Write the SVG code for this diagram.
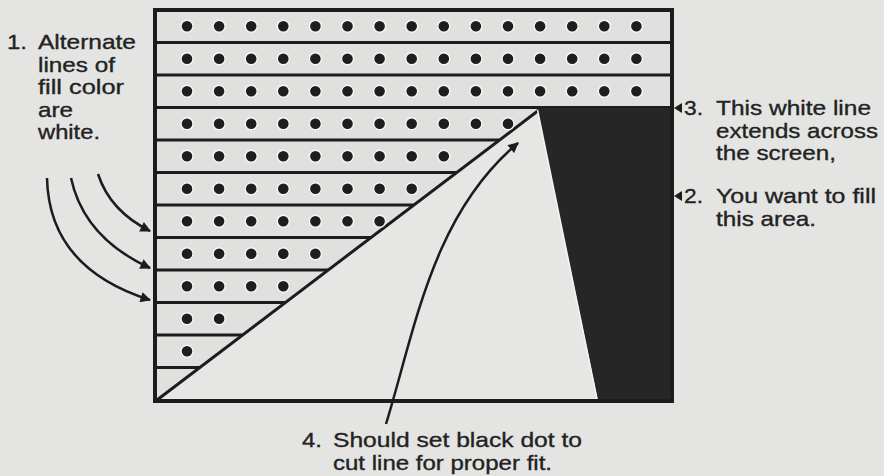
<svg xmlns="http://www.w3.org/2000/svg" xmlns:xlink="http://www.w3.org/1999/xlink" width="884" height="476" viewBox="0 0 884 476">
<style>
.t{font-family:"Liberation Sans",Arial,Helvetica,sans-serif;font-size:21px;fill:#222;stroke:#222;stroke-width:0.35}
.ln{stroke:#1c1c1c;stroke-width:3;fill:none}
.fr{stroke:#1c1c1c;stroke-width:4;fill:none}
.ar{stroke:#1c1c1c;stroke-width:2.5;fill:none}
</style>
<defs>
<circle id="d" r="6" fill="#1e1e1e" stroke="#f6f6f6" stroke-width="1.4"/>
<marker id="ah" viewBox="0 0 10 10" refX="9" refY="5" markerWidth="4.6" markerHeight="4.2" orient="auto" markerUnits="strokeWidth">
<path d="M0,0 L10,5 L0,10 Z" fill="#1c1c1c"/>
</marker>
</defs>
<rect width="884" height="476" fill="#e4e5e2"/>
<g id="grid">
<rect x="155" y="10" width="517" height="391" fill="#e0e1df"/>
<polygon points="157,400 539,110 598,400" fill="#e6e7e4"/>
<g class="ln">
<line x1="155" y1="42.5" x2="672" y2="42.5"/>
<line x1="155" y1="75" x2="672" y2="75"/>
<line x1="155" y1="107.5" x2="672" y2="107.5"/>
<line x1="155" y1="140" x2="499" y2="140"/>
<line x1="155" y1="172.5" x2="457" y2="172.5"/>
<line x1="155" y1="205" x2="414" y2="205"/>
<line x1="155" y1="237.5" x2="371" y2="237.5"/>
<line x1="155" y1="270" x2="328" y2="270"/>
<line x1="155" y1="302.5" x2="285" y2="302.5"/>
<line x1="155" y1="335" x2="243" y2="335"/>
<line x1="155" y1="367.5" x2="200" y2="367.5"/>
<line x1="157" y1="400" x2="539" y2="110"/>
</g>
<g id="dots">
<use href="#d" x="187" y="26.3"/><use href="#d" x="219.1" y="26.3"/><use href="#d" x="251.2" y="26.3"/><use href="#d" x="283.3" y="26.3"/><use href="#d" x="315.4" y="26.3"/><use href="#d" x="347.5" y="26.3"/><use href="#d" x="379.6" y="26.3"/><use href="#d" x="411.7" y="26.3"/><use href="#d" x="443.8" y="26.3"/><use href="#d" x="475.9" y="26.3"/><use href="#d" x="508" y="26.3"/><use href="#d" x="540.1" y="26.3"/><use href="#d" x="572.2" y="26.3"/><use href="#d" x="604.3" y="26.3"/><use href="#d" x="636.4" y="26.3"/>
<use href="#d" x="187" y="58.8"/><use href="#d" x="219.1" y="58.8"/><use href="#d" x="251.2" y="58.8"/><use href="#d" x="283.3" y="58.8"/><use href="#d" x="315.4" y="58.8"/><use href="#d" x="347.5" y="58.8"/><use href="#d" x="379.6" y="58.8"/><use href="#d" x="411.7" y="58.8"/><use href="#d" x="443.8" y="58.8"/><use href="#d" x="475.9" y="58.8"/><use href="#d" x="508" y="58.8"/><use href="#d" x="540.1" y="58.8"/><use href="#d" x="572.2" y="58.8"/><use href="#d" x="604.3" y="58.8"/><use href="#d" x="636.4" y="58.8"/>
<use href="#d" x="187" y="91.3"/><use href="#d" x="219.1" y="91.3"/><use href="#d" x="251.2" y="91.3"/><use href="#d" x="283.3" y="91.3"/><use href="#d" x="315.4" y="91.3"/><use href="#d" x="347.5" y="91.3"/><use href="#d" x="379.6" y="91.3"/><use href="#d" x="411.7" y="91.3"/><use href="#d" x="443.8" y="91.3"/><use href="#d" x="475.9" y="91.3"/><use href="#d" x="508" y="91.3"/><use href="#d" x="540.1" y="91.3"/><use href="#d" x="572.2" y="91.3"/><use href="#d" x="604.3" y="91.3"/><use href="#d" x="636.4" y="91.3"/>
<use href="#d" x="187" y="123.8"/><use href="#d" x="219.1" y="123.8"/><use href="#d" x="251.2" y="123.8"/><use href="#d" x="283.3" y="123.8"/><use href="#d" x="315.4" y="123.8"/><use href="#d" x="347.5" y="123.8"/><use href="#d" x="379.6" y="123.8"/><use href="#d" x="411.7" y="123.8"/><use href="#d" x="443.8" y="123.8"/><use href="#d" x="475.9" y="123.8"/><use href="#d" x="508" y="123.8"/>
<use href="#d" x="187" y="156.3"/><use href="#d" x="219.1" y="156.3"/><use href="#d" x="251.2" y="156.3"/><use href="#d" x="283.3" y="156.3"/><use href="#d" x="315.4" y="156.3"/><use href="#d" x="347.5" y="156.3"/><use href="#d" x="379.6" y="156.3"/><use href="#d" x="411.7" y="156.3"/><use href="#d" x="443.8" y="156.3"/>
<use href="#d" x="187" y="188.8"/><use href="#d" x="219.1" y="188.8"/><use href="#d" x="251.2" y="188.8"/><use href="#d" x="283.3" y="188.8"/><use href="#d" x="315.4" y="188.8"/><use href="#d" x="347.5" y="188.8"/><use href="#d" x="379.6" y="188.8"/><use href="#d" x="411.7" y="188.8"/>
<use href="#d" x="187" y="221.3"/><use href="#d" x="219.1" y="221.3"/><use href="#d" x="251.2" y="221.3"/><use href="#d" x="283.3" y="221.3"/><use href="#d" x="315.4" y="221.3"/><use href="#d" x="347.5" y="221.3"/><use href="#d" x="379.6" y="221.3"/>
<use href="#d" x="187" y="253.8"/><use href="#d" x="219.1" y="253.8"/><use href="#d" x="251.2" y="253.8"/><use href="#d" x="283.3" y="253.8"/><use href="#d" x="315.4" y="253.8"/>
<use href="#d" x="187" y="286.3"/><use href="#d" x="219.1" y="286.3"/><use href="#d" x="251.2" y="286.3"/><use href="#d" x="283.3" y="286.3"/>
<use href="#d" x="187" y="318.8"/><use href="#d" x="219.1" y="318.8"/>
<use href="#d" x="187" y="351.3"/>
</g>
</g>
<g id="black-area">
<polygon points="537,108 672,108 672,401 598,401" fill="#262626"/>
<line x1="537.5" y1="110" x2="597" y2="399" stroke="#f4f4f2" stroke-width="1.5"/>
</g>
<rect id="frame" x="155" y="10" width="517" height="391" class="fr"/>
<g id="connectors">
<path class="ar" d="M98,174 Q110,211 150,231" marker-end="url(#ah)"/>
<path class="ar" d="M71,178 Q84,238 150,268" marker-end="url(#ah)"/>
<path class="ar" d="M47,178 Q49,268 150,300" marker-end="url(#ah)"/>
<path class="ar" d="M386,424 C415,330 432,215 518,143" marker-end="url(#ah)"/>
<polygon points="674,108 682,103 682,113" fill="#1c1c1c"/>
<polygon points="674,196 682,191 682,201" fill="#1c1c1c"/>
</g>
<g id="label-1">
<text class="t" x="7" y="49" textLength="20" lengthAdjust="spacingAndGlyphs">1.</text>
<text class="t" x="38" y="49" textLength="98" lengthAdjust="spacingAndGlyphs">Alternate</text>
<text class="t" x="38" y="71.5" textLength="77" lengthAdjust="spacingAndGlyphs">lines of</text>
<text class="t" x="38" y="94" textLength="86" lengthAdjust="spacingAndGlyphs">fill color</text>
<text class="t" x="38" y="116.5" textLength="35" lengthAdjust="spacingAndGlyphs">are</text>
<text class="t" x="38" y="139" textLength="62" lengthAdjust="spacingAndGlyphs">white.</text>
</g>
<g id="label-3">
<text class="t" x="684" y="115" textLength="19" lengthAdjust="spacingAndGlyphs">3.</text>
<text class="t" x="716" y="115" textLength="155" lengthAdjust="spacingAndGlyphs">This white line</text>
<text class="t" x="716" y="137.5" textLength="162" lengthAdjust="spacingAndGlyphs">extends across</text>
<text class="t" x="716" y="160" textLength="120" lengthAdjust="spacingAndGlyphs">the screen,</text>
</g>
<g id="label-2">
<text class="t" x="684" y="203" textLength="19" lengthAdjust="spacingAndGlyphs">2.</text>
<text class="t" x="716" y="203" textLength="160" lengthAdjust="spacingAndGlyphs">You want to fill</text>
<text class="t" x="716" y="225.5" textLength="100" lengthAdjust="spacingAndGlyphs">this area.</text>
</g>
<g id="label-4">
<text class="t" x="302" y="447" textLength="20" lengthAdjust="spacingAndGlyphs">4.</text>
<text class="t" x="333" y="447" textLength="249" lengthAdjust="spacingAndGlyphs">Should set black dot to</text>
<text class="t" x="333" y="470" textLength="219" lengthAdjust="spacingAndGlyphs">cut line for proper fit.</text>
</g>
</svg>
